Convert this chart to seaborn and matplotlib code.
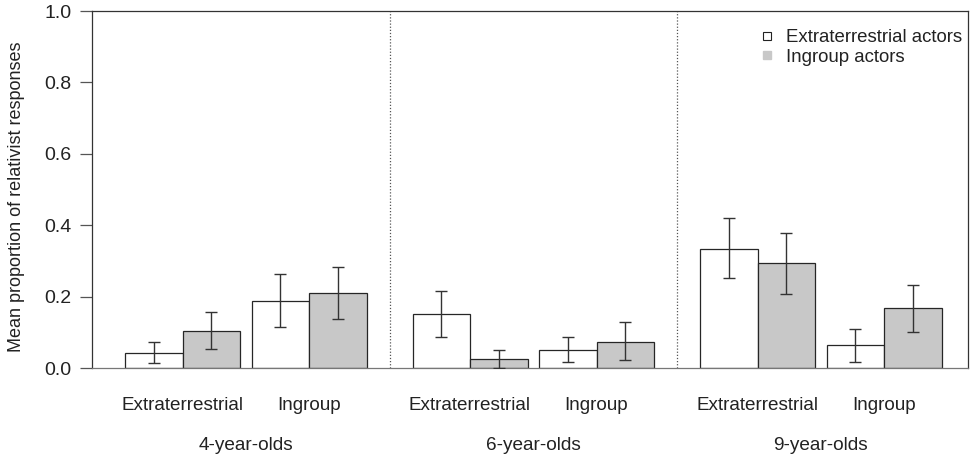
import numpy as np
import pandas as pd
import matplotlib
matplotlib.use("Agg")
import matplotlib.pyplot as plt
import matplotlib.transforms as mtransforms
from matplotlib.lines import Line2D
import seaborn as sns

# ---- data ----
age_groups = ["4-year-olds", "6-year-olds", "9-year-olds"]
conditions = ["Extraterrestrial", "Ingroup"]
actors = ["Extraterrestrial actors", "Ingroup actors"]

et_actor_mean = [0.043, 0.189, 0.152, 0.051, 0.334, 0.064]
et_actor_lo = [0.013, 0.114, 0.088, 0.016, 0.252, 0.016]
et_actor_hi = [0.072, 0.262, 0.215, 0.086, 0.419, 0.110]

in_actor_mean = [0.104, 0.209, 0.024, 0.074, 0.295, 0.168]
in_actor_lo = [0.053, 0.136, 0.000, 0.022, 0.207, 0.101]
in_actor_hi = [0.156, 0.284, 0.051, 0.130, 0.379, 0.233]

# ---- layout ----
group_step = 5.0
pair_step = 2.2
positions = [g * group_step + c * pair_step
             for g in range(len(age_groups)) for c in range(len(conditions))]

rows = []
for actor, means in zip(actors, [et_actor_mean, in_actor_mean]):
    for p, m in zip(positions, means):
        rows.append({"pos": p, "actor": actor, "mean": m})
df = pd.DataFrame(rows)

sns.set_style("white")
plt.rcParams["font.family"] = ["Liberation Sans", "DejaVu Sans"]

fig = plt.figure(figsize=(9.73, 4.61), dpi=100)
ax = fig.add_axes([92 / 973, 93 / 461, 876 / 973, 357 / 461])

fill = {"Extraterrestrial actors": "#ffffff", "Ingroup actors": "#c8c8c8"}
sns.barplot(data=df, x="pos", y="mean", hue="actor", hue_order=actors,
            palette=fill, native_scale=True, width=1 / 1.1, errorbar=None,
            edgecolor="#262626", linewidth=0.9, saturation=1, ax=ax,
            legend=False)

los = [et_actor_lo, in_actor_lo]
his = [et_actor_hi, in_actor_hi]
for cont, lo, hi, means in zip(ax.containers, los, his,
                                [et_actor_mean, in_actor_mean]):
    xs = [b.get_x() + b.get_width() / 2 for b in cont]
    m = np.array(means)
    yerr = np.vstack([m - np.array(lo), np.array(hi) - m])
    ax.errorbar(xs, m, yerr=yerr, fmt="none", ecolor="#333333",
                elinewidth=1.0, capsize=4.5, capthick=1.0, zorder=5)

# separators
for g in range(1, len(age_groups)):
    xsep = (positions[2 * g - 1] + positions[2 * g]) / 2
    ax.axvline(xsep, color="#555555", linestyle=(0, (1, 1.5)), linewidth=0.9)

left_px, unit_px = 182.5, 57.5
ax.set_xlim((92 - left_px) / unit_px, (968 - left_px) / unit_px)
ax.set_ylim(0, 1.0)
ax.set_yticks([0.0, 0.2, 0.4, 0.6, 0.8, 1.0])
ax.set_yticklabels(["0.0", "0.2", "0.4", "0.6", "0.8", "1.0"])
ax.set_xticks(positions)
ax.set_xticklabels(conditions * len(age_groups))
ax.tick_params(axis="x", length=0, pad=21, labelsize=13.6, labelcolor="#222222")
ax.tick_params(axis="y", length=9, width=0.9, color="#555555", pad=6,
               labelsize=14, labelcolor="#222222", left=True)
ax.set_xlabel("")
ax.set_ylabel("Mean proportion of relativist responses", fontsize=13,
              color="#222222")
ax.yaxis.set_label_coords((25 - 92) / 876, 0.48)

for s in ax.spines.values():
    s.set_visible(True)
    s.set_color("#333333")
    s.set_linewidth(0.9)
ax.spines["bottom"].set_color("#777777")

trans = mtransforms.blended_transform_factory(ax.transData, ax.transAxes)
for g, lab in enumerate(age_groups):
    xc = (positions[2 * g] + positions[2 * g + 1]) / 2
    ax.text(xc, -0.216, lab, transform=trans, ha="center", va="center",
            fontsize=13.7, color="#222222")

handles = [
    Line2D([], [], marker="s", linestyle="none", markersize=6,
           markerfacecolor="#ffffff", markeredgecolor="#222222",
           markeredgewidth=0.8),
    Line2D([], [], marker="s", linestyle="none", markersize=6,
           markerfacecolor="#c8c8c8", markeredgecolor="#c8c8c8"),
]
ax.legend(handles, actors, loc="upper right", bbox_to_anchor=(1.008, 0.985),
          frameon=False, fontsize=13.4, handlelength=0.6, handletextpad=0.7,
          labelspacing=0.12, borderaxespad=0.3, labelcolor="#222222")

fig.savefig("out.png", dpi=100)
